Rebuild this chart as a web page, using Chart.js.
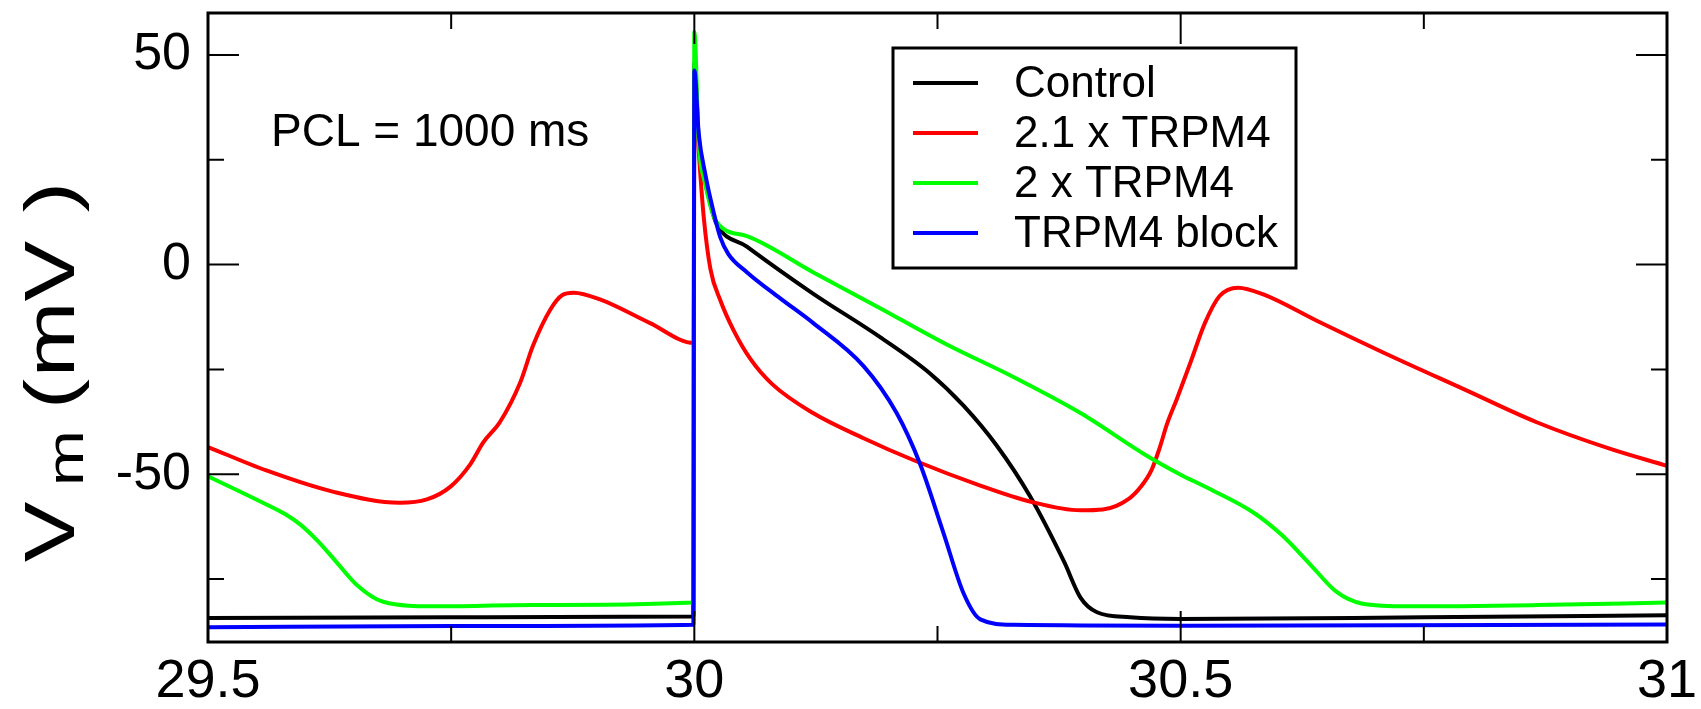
<!DOCTYPE html>
<html>
<head>
<meta charset="utf-8">
<script src="https://cdn.jsdelivr.net/npm/chart.js@4.4.1/dist/chart.umd.min.js"></script>
<style>
  html, body { margin: 0; padding: 0; background: #fff; }
</style>
</head>
<body>
<canvas id="apChart" width="1701" height="709"></canvas>
<script>
/* --- Data ------------------------------------------------------------------ */
const seriesLabels  = ['Control', '2.1 x TRPM4', '2 x TRPM4', 'TRPM4 block'];
const seriesColours = ['#000000', '#ff0000', '#00ff00', '#0000ff'];

// time (s) / membrane potential (mV)
const controlT = [29.5, 29.75, 29.999, 30.0, 30.0045, 30.011, 30.0175, 30.0225, 30.054, 30.122, 30.191, 30.242, 30.277, 30.311, 30.345, 30.38, 30.397, 30.414, 30.448, 30.5, 30.75, 31.0];
const controlV = [-84.3, -84.1, -83.9, 48, 30, 20, 13.5, 9.9, 4.3, -6.9, -17.3, -25.9, -33.7, -43.2, -55.2, -70.8, -79.4, -82.9, -84.1, -84.5, -84.1, -83.6];

const trpm21T = [29.5, 29.56, 29.629, 29.697, 29.725, 29.749, 29.77, 29.783, 29.8, 29.821, 29.834, 29.852, 29.864, 29.876, 29.903, 29.954, 29.9995, 30.0, 30.0045, 30.0096, 30.0165, 30.0267, 30.04, 30.0576, 30.08, 30.122, 30.174, 30.225, 30.294, 30.345, 30.397, 30.42, 30.447, 30.459, 30.47, 30.478, 30.486, 30.496, 30.51, 30.525, 30.54, 30.559, 30.585, 30.641, 30.716, 30.791, 30.866, 30.941, 31.0];
const trpm21V = [-43.5, -49.1, -54.2, -56.8, -56.0, -53.0, -47.5, -42.4, -37.6, -28.1, -19.4, -10.7, -7.3, -6.7, -8.3, -13.9, -18.7, 45, 27.3, 11.5, -1.0, -8.5, -15.5, -22.5, -28.5, -35.4, -41.4, -46.6, -52.7, -56.5, -58.6, -58.4, -55.8, -53.0, -49.0, -44.0, -38.0, -32.1, -23.4, -13.9, -7.5, -5.5, -7.1, -13.5, -21.8, -29.7, -37.6, -43.9, -48.0];

const trpm2T = [29.5, 29.53, 29.56, 29.58, 29.595, 29.612, 29.629, 29.653, 29.68, 29.732, 29.834, 29.999, 30.0, 30.0045, 30.011, 30.0225, 30.054, 30.122, 30.191, 30.259, 30.328, 30.397, 30.466, 30.5, 30.529, 30.574, 30.604, 30.634, 30.66, 30.686, 30.735, 30.866, 31.0];
const trpm2V = [-50.5, -53.8, -57.2, -59.6, -62.0, -65.7, -70.1, -76.4, -80.4, -81.5, -81.2, -80.6, 55.5, 29, 19.5, 10.3, 6.8, -1.8, -10.4, -19.0, -26.8, -35.4, -45.7, -50.1, -53.4, -59.0, -64.5, -71.7, -78.0, -80.8, -81.5, -81.2, -80.6];

const blockT = [29.5, 29.75, 29.999, 30.0, 30.0045, 30.0113, 30.02, 30.0267, 30.035, 30.054, 30.088, 30.122, 30.174, 30.208, 30.232, 30.256, 30.277, 30.294, 30.328, 30.5, 31.0];
const blockV = [-86.5, -86.2, -85.9, 46.3, 31.3, 21.5, 12.3, 6.5, 2.5, -1.8, -8.0, -13.9, -24.2, -35.4, -47.5, -63.9, -78.5, -84.6, -85.9, -86.1, -85.8];

const xMajorTicks = [29.5, 30, 30.5, 31];
const xMinorTicks = [29.75, 30.25, 30.75];
const xTickLabels = ['29.5', '30', '30.5', '31'];
const yMajorTicks = [-50, 0, 50];
const yMinorTicks = [-75, -25, 25];
const yTickLabels = ['-50', '0', '50'];
const noteText    = 'PCL = 1000 ms';

/* --- Helpers --------------------------------------------------------------- */
const FONT = '"Liberation Sans", Arial, Helvetica, sans-serif';
const pts = (ts, vs) => ts.map((t, i) => ({ x: t, y: vs[i] }));

function series(i, ts, vs, order) {
  return {
    label: seriesLabels[i], data: pts(ts, vs),
    borderColor: seriesColours[i], backgroundColor: seriesColours[i],
    borderWidth: 4, pointRadius: 0, fill: false,
    cubicInterpolationMode: 'monotone', order: order
  };
}

// one piece of the rotated y title, centred on screen row cy
function titlePiece(ctx, text, size, cx, cy) {
  ctx.save();
  ctx.translate(cx, cy);
  ctx.rotate(-Math.PI / 2);
  ctx.scale(1.3, 1);
  ctx.font = size + 'px ' + FONT;
  ctx.textAlign = 'center';
  ctx.textBaseline = 'alphabetic';
  ctx.fillText(text, 0, 0);
  ctx.restore();
}

/* --- Decorations: frame, inward ticks, legend box, note, y title ---------- */
const decor = {
  id: 'decor',
  afterDraw(chart) {
    const { ctx, chartArea: a, scales: { x, y } } = chart;
    ctx.save();
    ctx.strokeStyle = '#000';

    // ticks on all four sides, pointing in
    ctx.lineWidth = 2;
    ctx.beginPath();
    const xt = (vals, len) => vals.forEach(v => {
      const px = x.getPixelForValue(v);
      ctx.moveTo(px, a.bottom); ctx.lineTo(px, a.bottom - len);
      ctx.moveTo(px, a.top);    ctx.lineTo(px, a.top + len);
    });
    const yt = (vals, len) => vals.forEach(v => {
      const py = y.getPixelForValue(v);
      ctx.moveTo(a.left, py);  ctx.lineTo(a.left + len, py);
      ctx.moveTo(a.right, py); ctx.lineTo(a.right - len, py);
    });
    xt(xMajorTicks, 31); xt(xMinorTicks, 16);
    yt(yMajorTicks, 31); yt(yMinorTicks, 16);
    ctx.stroke();

    // frame
    ctx.lineWidth = 3;
    ctx.strokeRect(a.left, a.top, a.right - a.left, a.bottom - a.top);

    // legend
    const bx = 893, by = 48, bw = 403, bh = 220;
    ctx.fillStyle = '#fff';
    ctx.fillRect(bx, by, bw, bh);
    ctx.strokeRect(bx, by, bw, bh);
    ctx.font = '44px ' + FONT;
    ctx.textBaseline = 'middle';
    ctx.textAlign = 'left';
    chart.data.datasets.forEach((ds, i) => {
      const ry = by + 35 + i * 50;
      ctx.strokeStyle = ds.borderColor;
      ctx.lineWidth = 4;
      ctx.beginPath(); ctx.moveTo(913, ry); ctx.lineTo(978, ry); ctx.stroke();
      ctx.fillStyle = '#000';
      ctx.fillText(ds.label, 1014, ry + 2);
    });

    // note
    ctx.font = '46px ' + FONT;
    ctx.textBaseline = 'alphabetic';
    ctx.fillText(noteText, 271, 146);
    ctx.restore();

    // y title  V_m ( mV )
    ctx.fillStyle = '#000';
    titlePiece(ctx, 'V', 70, 74, 532);
    titlePiece(ctx, 'm', 52, 83, 458);
    titlePiece(ctx, '(', 70, 74, 394);
    titlePiece(ctx, 'mV', 70, 74, 309);
    titlePiece(ctx, ')', 70, 74, 197);
  }
};

/* --- Chart ----------------------------------------------------------------- */
const chart = new Chart(document.getElementById('apChart').getContext('2d'), {
  type: 'line',
  data: { datasets: [
    series(0, controlT, controlV, 3),
    series(1, trpm21T, trpm21V, 2),
    series(2, trpm2T, trpm2V, 1),
    series(3, blockT, blockV, 0)
  ]},
  options: {
    responsive: false, animation: false,
    layout: { padding: { top: 13, right: 34, bottom: 0, left: 0 } },
    plugins: { legend: { display: false }, tooltip: { enabled: false } },
    scales: {
      x: {
        type: 'linear', min: 29.5, max: 31,
        grid: { display: false, drawTicks: false }, border: { display: false },
        afterBuildTicks: s => { s.ticks = xMajorTicks.map(v => ({ value: v })); },
        ticks: { color: '#000', font: { family: FONT, size: 54 }, padding: 8,
                 maxRotation: 0, autoSkip: false, callback: (v, i) => xTickLabels[i] },
        afterFit: s => { s.height = 67; s.paddingLeft = 0; s.paddingRight = 0; }
      },
      y: {
        type: 'linear', min: -90, max: 60,
        grid: { display: false, drawTicks: false }, border: { display: false },
        afterBuildTicks: s => { s.ticks = yMajorTicks.map(v => ({ value: v })); },
        ticks: { color: '#000', font: { family: FONT, size: 52 }, padding: 17,
                 autoSkip: false, callback: (v, i) => yTickLabels[i] },
        afterFit: s => { s.width = 208; s.paddingTop = 0; s.paddingBottom = 0; }
      }
    }
  },
  plugins: [decor]
});
</script>
</body>
</html>
